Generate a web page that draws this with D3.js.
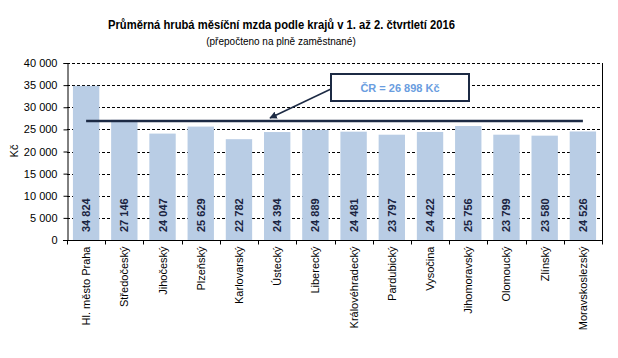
<!DOCTYPE html>
<html>
<head>
<meta charset="utf-8">
<script src="https://cdn.jsdelivr.net/npm/d3@7"></script>
<style>
  body { margin: 0; background: #fff; }
  svg { display: block; font-family: "Liberation Sans", Arial, sans-serif; }
</style>
</head>
<body>
<svg id="chart" width="618" height="358"></svg>
<script>
// data
var kraje = ["Hl. město Praha", "Středočeský", "Jihočeský", "Plzeňský", "Karlovarský",
    "Ústecký", "Liberecký", "Královéhradecký", "Pardubický", "Vysočina",
    "Jihomoravský", "Olomoucký", "Zlínský", "Moravskoslezský"];
var mzdy = [34824, 27146, 24047, 25629, 22782, 24394, 24889, 24481, 23797, 24422,
    25756, 23799, 23580, 24526];
var prumerCR = 26898;
var yTicks = [0, 5000, 10000, 15000, 20000, 25000, 30000, 35000, 40000];

var svg = d3.select("#chart");
var plotL = 67, plotR = 602, plotT = 63, plotB = 240;

var fmt = function (v) { return d3.format(",")(v).replace(/,/g, " "); };

var x = d3.scaleBand().domain(kraje).range([plotL, plotR]).paddingInner(0.31).paddingOuter(0.155);
var y = d3.scaleLinear().domain([0, 40000]).range([plotB, plotT]);

// title
svg.append("text").attr("x", 281.5).attr("y", 29).attr("text-anchor", "middle")
    .attr("textLength", 347).attr("lengthAdjust", "spacingAndGlyphs")
    .style("font-size", "13px").style("font-weight", "bold").attr("fill", "#000")
    .text("Průměrná hrubá měsíční mzda podle krajů v 1. až 2. čtvrtletí  2016");
svg.append("text").attr("x", 281).attr("y", 45).attr("text-anchor", "middle")
    .style("font-size", "10px").attr("fill", "#000")
    .text("(přepočteno na plně zaměstnané)");

// gridlines
svg.append("g").selectAll("line").data(yTicks.slice(1)).join("line")
    .attr("x1", plotL).attr("x2", plotR)
    .attr("y1", function (d) { return Math.round(y(d)) + 0.5; })
    .attr("y2", function (d) { return Math.round(y(d)) + 0.5; })
    .attr("stroke", "#000").attr("stroke-width", 1).attr("stroke-dasharray", "3,2");

// right frame
svg.append("line").attr("x1", plotR + 0.5).attr("x2", plotR + 0.5)
    .attr("y1", plotT).attr("y2", plotB).attr("stroke", "#000");

// bars
svg.append("g").selectAll("rect").data(mzdy).join("rect")
    .attr("x", function (d, i) { return x(kraje[i]); })
    .attr("y", function (d) { return y(d); })
    .attr("width", x.bandwidth())
    .attr("height", function (d) { return plotB - y(d); })
    .attr("fill", "#b9cde5");

// bar labels
svg.append("g").selectAll("text").data(mzdy).join("text")
    .attr("transform", function (d, i) {
        return "translate(" + (x(kraje[i]) + x.bandwidth() / 2 + 4) + "," + 232 + ") rotate(-90)";
    })
    .style("font-size", "11px").style("font-weight", "bold").attr("fill", "#1a2340")
    .text(function (d) { return fmt(d); });

// y axis
var yAxis = d3.axisLeft(y).tickValues(yTicks).tickSize(4).tickPadding(6).tickFormat(fmt);
var gy = svg.append("g").attr("transform", "translate(" + (plotL + 0.5) + ",0)").call(yAxis);
gy.selectAll("text").style("font-size", "11px").attr("fill", "#000").style("font-family", "Liberation Sans, Arial");
gy.selectAll("line, path").attr("stroke", "#000");

// x axis
var gx = svg.append("g").attr("transform", "translate(0," + (plotB + 0.5) + ")");
gx.append("line").attr("x1", plotL - 4).attr("x2", plotR + 1).attr("stroke", "#000");
var bounds = d3.range(kraje.length + 1).map(function (i) { return plotL + i * x.step(); });
gx.selectAll("line.t").data(bounds).join("line").attr("class", "t")
    .attr("x1", function (d) { return Math.round(d) + 0.5; })
    .attr("x2", function (d) { return Math.round(d) + 0.5; })
    .attr("y1", 0).attr("y2", 4).attr("stroke", "#000");
gx.selectAll("text").data(kraje).join("text")
    .attr("transform", function (d) {
        return "translate(" + (x(d) + x.bandwidth() / 2 + 4) + ",6) rotate(-90)";
    })
    .attr("text-anchor", "end").style("font-size", "11px").attr("fill", "#000")
    .text(function (d) { return d; });

// y label
svg.append("text").attr("transform", "translate(18,151) rotate(-90)")
    .attr("text-anchor", "middle").style("font-size", "11px").attr("fill", "#000").text("Kč");

// average line
var c0 = x(kraje[0]) + x.bandwidth() / 2, c1 = x(kraje[kraje.length - 1]) + x.bandwidth() / 2;
svg.append("line").attr("x1", c0).attr("x2", c1)
    .attr("y1", y(prumerCR)).attr("y2", y(prumerCR))
    .attr("stroke", "#1c2a44").attr("stroke-width", 2.5);

// annotation
svg.append("defs").append("marker").attr("id", "arr")
    .attr("viewBox", "0 0 10 10").attr("refX", 9).attr("refY", 5)
    .attr("markerWidth", 5).attr("markerHeight", 5).attr("orient", "auto")
    .append("path").attr("d", "M0,0L10,5L0,10z").attr("fill", "#1c2a44");
svg.append("line").attr("x1", 331).attr("y1", 89).attr("x2", 270).attr("y2", y(prumerCR) - 3)
    .attr("stroke", "#1c2a44").attr("stroke-width", 1.5).attr("marker-end", "url(#arr)");
svg.append("rect").attr("x", 331).attr("y", 74).attr("width", 138).attr("height", 27)
    .attr("fill", "#fff").attr("stroke", "#1c2a44").attr("stroke-width", 2);
svg.append("text").attr("x", 400).attr("y", 91.5).attr("text-anchor", "middle")
    .style("font-size", "11px").style("font-weight", "bold").attr("fill", "#6a9de0")
    .text("ČR = " + fmt(prumerCR) + " Kč");
</script>
</body>
</html>
